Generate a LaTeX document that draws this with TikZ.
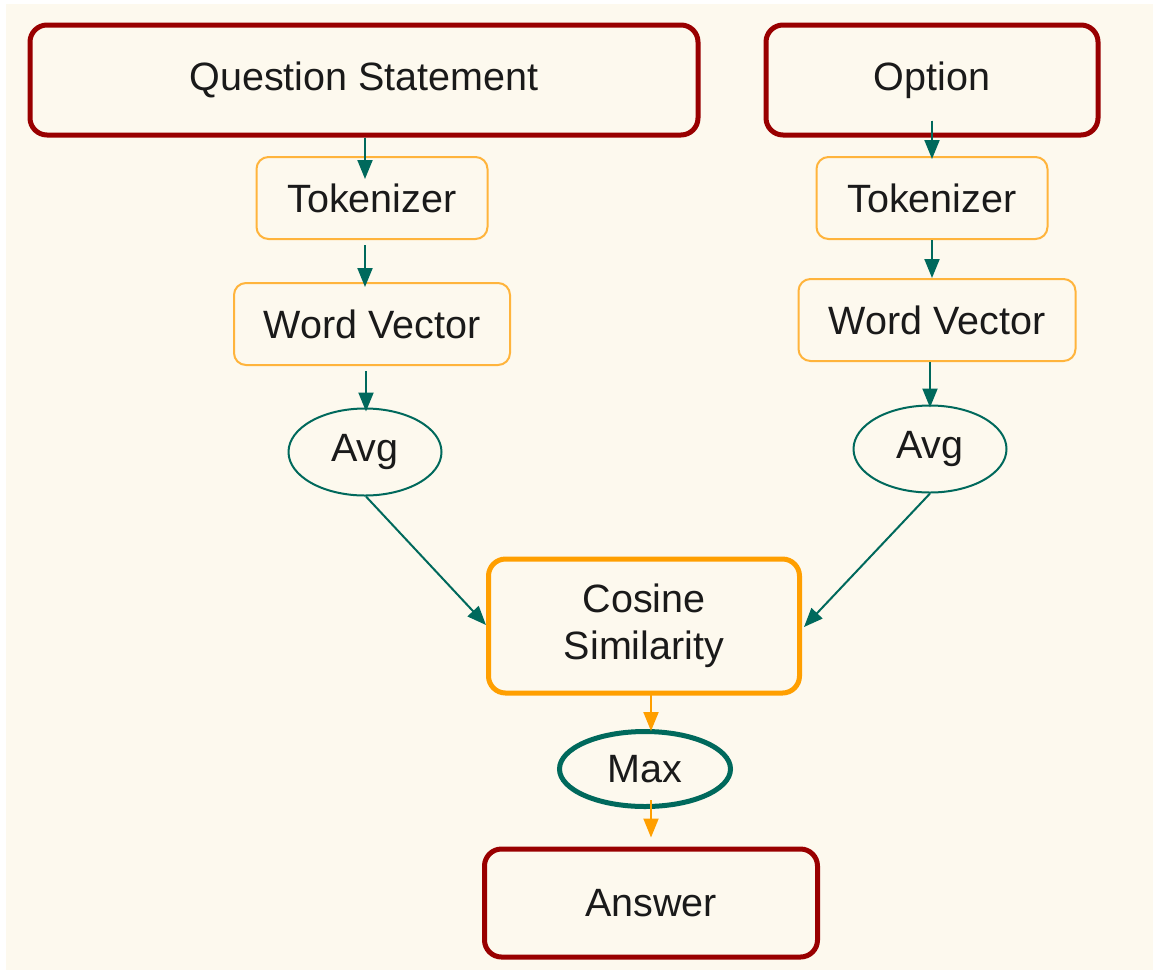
\documentclass[tikz,border=0pt]{standalone}
\usepackage{fontspec}
\setmainfont{Liberation Sans}
\usetikzlibrary{arrows.meta,shapes.geometric,calc}
\definecolor{bg}{HTML}{FDF9EE}
\definecolor{dred}{HTML}{990000}
\definecolor{orng}{HTML}{FF9F00}
\definecolor{lorng}{HTML}{FFB43C}
\definecolor{teal}{HTML}{00695C}
\definecolor{txt}{HTML}{1A1A1A}
\tikzset{
  every node/.style={font=\fontsize{39.5}{47}\selectfont, text=txt, align=center, inner sep=0pt},
  redbox/.style={draw=dred, line width=5pt, rounded corners=17pt, fill=bg},
  thinbox/.style={draw=lorng, line width=2pt, rounded corners=12pt, fill=bg},
  thickbox/.style={draw=orng, line width=5pt, rounded corners=17pt, fill=bg},
  thinell/.style={ellipse, draw=teal, line width=2pt, fill=bg},
  thickell/.style={ellipse, draw=teal, line width=5pt, fill=bg},
  tarrow/.style={draw=teal, line width=2pt, -{Triangle[length=19pt,width=15pt]}, fill=teal},
  oarrow/.style={draw=orng, line width=2pt, -{Triangle[length=19pt,width=15pt]}, fill=orng},
}
\begin{document}
\begin{tikzpicture}[x=1pt,y=-1pt]
\useasboundingbox (0,0) rectangle (1153,970);
\fill[white] (0,0) rectangle (1153,970);
\fill[bg] (6,4) rectangle (1153,970);

\node[redbox, minimum width=668pt, minimum height=110pt] (qs) at (364,80) {Question Statement};
\node[redbox, minimum width=332pt, minimum height=110pt] (opt) at (932,80) {Option};

\node[thinbox, minimum width=231pt, minimum height=82pt] (tokL) at (372,198) {Tokenizer};
\node[thinbox, minimum width=231pt, minimum height=82pt] (tokR) at (932,198) {Tokenizer};

\node[thinbox, minimum width=276pt, minimum height=82pt] (wvL) at (372,324) {Word Vector};
\node[thinbox, minimum width=277pt, minimum height=82pt] (wvR) at (937,320) {Word Vector};

\node[thinell, minimum width=153pt, minimum height=87pt] (avgL) at (365,452) {Avg};
\node[thinell, minimum width=153pt, minimum height=87pt] (avgR) at (930,449) {Avg};

\node[thickbox, minimum width=311pt, minimum height=134pt] (cos) at (644,626) {Cosine\\Similarity};
\node[thickell, minimum width=171pt, minimum height=75pt] (max) at (645,769) {Max};
\node[redbox, minimum width=333pt, minimum height=108pt] (ans) at (651,903) {Answer};

% left column
\draw[tarrow] ([xshift=-7pt]tokL.north |- qs.south) -- ([xshift=-7pt,yshift=-23pt]tokL.north);
\draw[tarrow] ([xshift=-7pt,yshift=-5pt]tokL.south) -- ([xshift=-7pt,yshift=-5pt]wvL.north);
\draw[tarrow] ([xshift=-6pt,yshift=-5pt]wvL.south) -- ([xshift=1pt,yshift=-4pt]avgL.north);
\draw[tarrow] ([xshift=1pt]avgL.south) -- ([yshift=1pt]cos.west);
% right column
\draw[tarrow] ([yshift=17pt]opt.south) -- ([yshift=-3pt]tokR.north);
\draw[tarrow] (tokR.south) -- (tokR.south |- wvR.north);
\draw[tarrow] ([xshift=-7pt]wvR.south) -- ([yshift=-3pt]avgR.north);
\draw[tarrow] (avgR.south) -- ([xshift=2pt,yshift=-1pt]cos.east);
% bottom
\draw[oarrow] ([xshift=7pt,yshift=3pt]cos.south) -- ([xshift=6pt,yshift=-2pt]max.north);
\draw[oarrow] ([xshift=6pt,yshift=9pt]max.south) -- ([xshift=0pt,yshift=9pt]ans.north);
\end{tikzpicture}
\end{document}
